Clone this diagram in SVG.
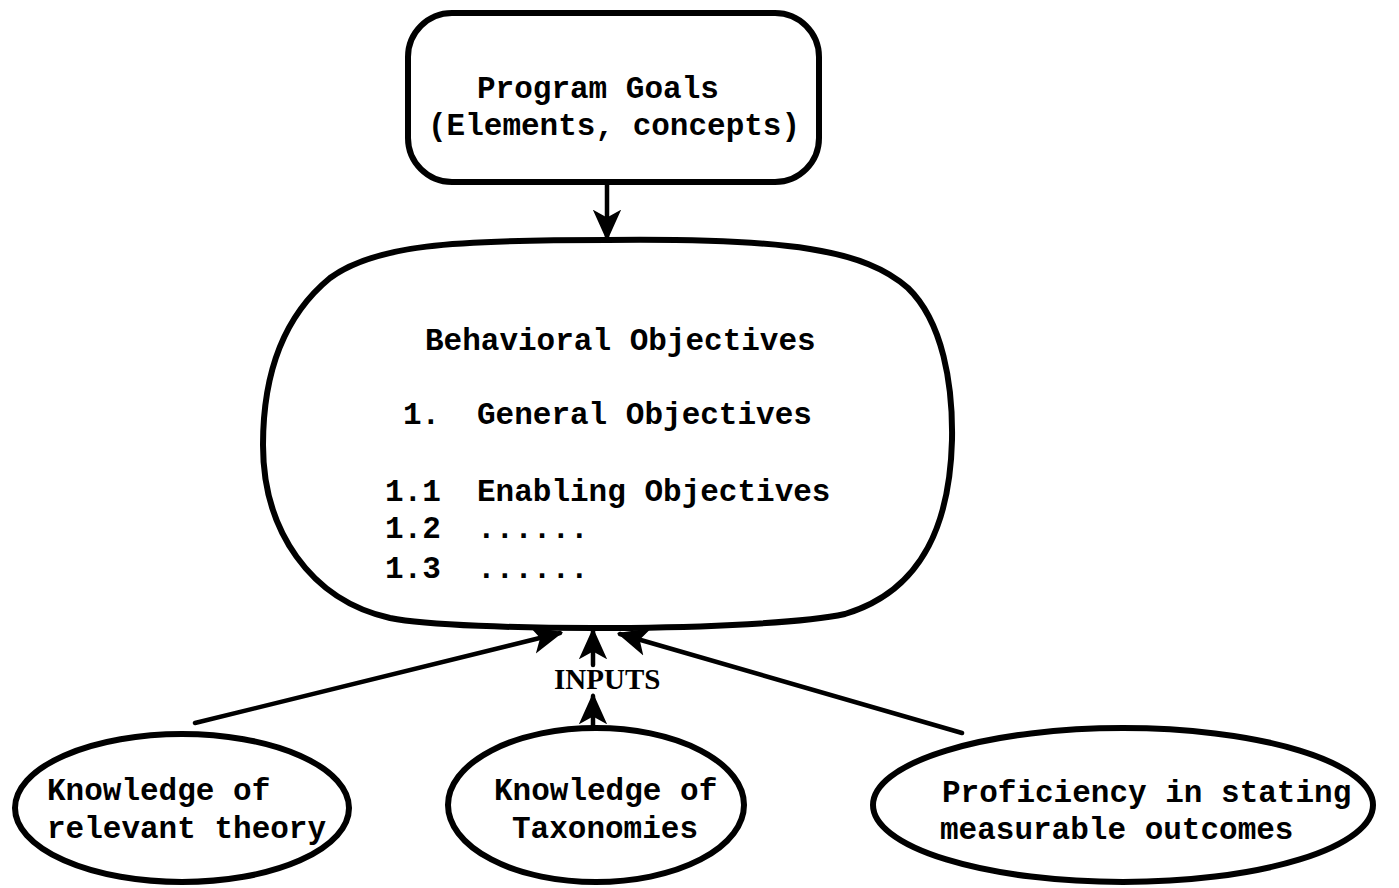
<svg xmlns="http://www.w3.org/2000/svg" width="1399" height="888" viewBox="0 0 1399 888">
<defs>
<style>
.shape{fill:none;stroke:#000;stroke-width:6;stroke-linejoin:round}
.line{fill:none;stroke:#000;stroke-width:4.5;stroke-linecap:round}
.t{font-family:"Liberation Mono","DejaVu Sans Mono",monospace;font-weight:bold;font-size:31px;fill:#000}
.in{font-family:"Liberation Serif","DejaVu Serif",serif;font-weight:bold;font-size:29px;fill:#000}
</style>
<marker id="ah" viewBox="0 0 20 20" refX="18" refY="10" markerWidth="7" markerHeight="7" markerUnits="strokeWidth" orient="auto">
<path d="M0,1 L20,10 L0,19 L5,10 Z" fill="#000"/>
</marker>
</defs>
<rect width="1399" height="888" fill="#fff"/>
<g id="program-goals">
<rect class="shape" x="408" y="13" width="411" height="169" rx="44" ry="44"/>
<text class="t" x="477" y="98">Program Goals</text>
<text class="t" x="428" y="135">(Elements, concepts)</text>
</g>
<g id="behavioral-objectives">
<path class="shape" d="M607,240 C790,238 865,250 908,288 C943,322 953,385 952,440 C950,520 925,590 845,614 C760,632 460,632 390,618 C310,600 263,530 263,445 C263,370 285,315 330,278 C375,245 450,240 607,240 Z"/>
<text class="t" x="425" y="350">Behavioral Objectives</text>
<text class="t" x="403" y="424">1.</text>
<text class="t" x="477" y="424">General Objectives</text>
<text class="t" x="385" y="501">1.1</text>
<text class="t" x="477" y="501">Enabling Objectives</text>
<text class="t" x="385" y="538">1.2</text>
<text class="t" x="477" y="538">......</text>
<text class="t" x="385" y="578">1.3</text>
<text class="t" x="477" y="578">......</text>
</g>
<g id="inputs-label">
<text class="in" x="554" y="689">INPUTS</text>
</g>
<g id="knowledge-theory">
<ellipse class="shape" cx="182" cy="808" rx="167" ry="74"/>
<text class="t" x="47" y="800">Knowledge of</text>
<text class="t" x="47" y="838">relevant theory</text>
</g>
<g id="knowledge-taxonomies">
<ellipse class="shape" cx="596" cy="805" rx="148" ry="77"/>
<text class="t" x="494" y="800">Knowledge of</text>
<text class="t" x="512" y="838">Taxonomies</text>
</g>
<g id="proficiency">
<ellipse class="shape" cx="1123" cy="805" rx="250" ry="77"/>
<text class="t" x="942" y="802">Proficiency in stating</text>
<text class="t" x="940" y="839">measurable outcomes</text>
</g>
<g id="connectors">
<line class="line" x1="607" y1="182" x2="607" y2="238" marker-end="url(#ah)"/>
<line class="line" x1="195" y1="723" x2="560" y2="633" marker-end="url(#ah)"/>
<line class="line" x1="593" y1="665" x2="593" y2="631" marker-end="url(#ah)"/>
<line class="line" x1="962" y1="733" x2="620" y2="634" marker-end="url(#ah)"/>
<line class="line" x1="593" y1="728" x2="593" y2="696" marker-end="url(#ah)"/>
</g>
</svg>
